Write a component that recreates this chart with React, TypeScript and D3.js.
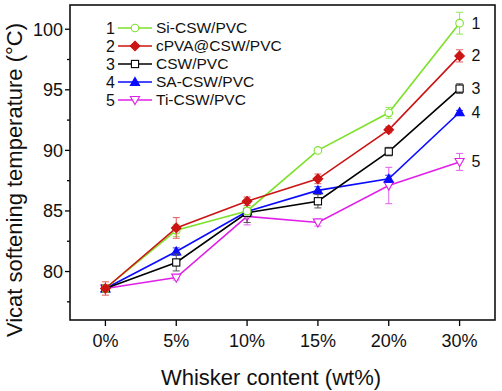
import React from "react";
import * as d3 from "d3";

const categories = ["0%", "5%", "10%", "15%", "20%", "30%"];
const seriesNames = ["Si-CSW/PVC", "cPVA@CSW/PVC", "CSW/PVC", "SA-CSW/PVC", "Ti-CSW/PVC"];
const siValues = [78.6, 83.4, 85.0, 90.0, 93.1, 100.5];
const cpvaValues = [78.6, 83.6, 85.8, 87.65, 91.7, 97.8];
const cswValues = [78.6, 80.75, 84.85, 85.8, 89.9, 95.1];
const saValues = [78.6, 81.65, 84.95, 86.7, 87.65, 93.15];
const tiValues = [78.6, 79.5, 84.55, 84.05, 87.1, 89.05];
const siErr = [0.3, 0.5, 0.3, 0.15, 0.45, 0.9];
const cpvaErr = [0.55, 0.85, 0.35, 0.4, 0.25, 0.5];
const cswErr = [0.3, 0.7, 0.8, 0.55, 0.35, 0.4];
const saErr = [0.2, 0.3, 0.2, 0.3, 0.3, 0.15];
const tiErr = [0.2, 0.2, 0.7, 0.3, 1.5, 0.7];
const yMajorTicks = [80, 85, 90, 95, 100];
const yMinorTicks = [77.5, 82.5, 87.5, 92.5, 97.5];

type Marker = "circle" | "diamond" | "square" | "triUp" | "triDown";
const series = [
  { id: "1", name: seriesNames[0], values: siValues, err: siErr, color: "#7de12a", errColor: "#8fe855", marker: "circle" as Marker, fill: "#fff" },
  { id: "2", name: seriesNames[1], values: cpvaValues, err: cpvaErr, color: "#cc1414", errColor: "#e45a5a", marker: "diamond" as Marker, fill: "#cc1414" },
  { id: "3", name: seriesNames[2], values: cswValues, err: cswErr, color: "#000000", errColor: "#555555", marker: "square" as Marker, fill: "#fff" },
  { id: "4", name: seriesNames[3], values: saValues, err: saErr, color: "#0a0aff", errColor: "#3030ff", marker: "triUp" as Marker, fill: "#0a0aff" },
  { id: "5", name: seriesNames[4], values: tiValues, err: tiErr, color: "#e020e8", errColor: "#e060ee", marker: "triDown" as Marker, fill: "#fff" },
];

const W = 502, H = 391;
const L = 70, R = 495, T = 5, B = 320;
const FONT = "'Liberation Sans', Arial, Helvetica, sans-serif";

function MarkerShape({ type, x, y, color, fill }: { type: Marker; x: number; y: number; color: string; fill: string }) {
  const sw = 1.1;
  if (type === "circle") return <circle cx={x} cy={y} r={3.8} fill={fill} stroke={color} strokeWidth={sw} />;
  if (type === "square") return <rect x={x - 3.6} y={y - 3.6} width={7.2} height={7.2} fill={fill} stroke={color} strokeWidth={sw} />;
  if (type === "diamond") {
    const s = 4.8;
    return <path d={`M${x},${y - s}L${x + s},${y}L${x},${y + s}L${x - s},${y}Z`} fill={fill} stroke={color} strokeWidth={sw} />;
  }
  if (type === "triUp") {
    const s = 4.6;
    return <path d={`M${x},${y - s}L${x + s},${y + s * 0.75}L${x - s},${y + s * 0.75}Z`} fill={fill} stroke={color} strokeWidth={sw} />;
  }
  const s = 4.6;
  return <path d={`M${x},${y + s}L${x + s},${y - s * 0.75}L${x - s},${y - s * 0.75}Z`} fill={fill} stroke={color} strokeWidth={sw} />;
}

export default function App() {
  const x = d3.scalePoint<string>().domain(categories).range([L, R]).padding(0.5);
  const y = d3.scaleLinear().domain([76, 102]).range([B, T]);
  const line = d3.line<number>().x((_, i) => x(categories[i])!).y((v) => y(v));
  const drawOrder = [4, 3, 2, 0, 1];
  const legendY0 = 28, legendStep = 18;

  return (
    <svg width={W} height={H} style={{ position: "absolute", left: 0, top: 0, background: "#fff" }} fontFamily={FONT}>
      <rect x={0} y={0} width={W} height={H} fill="#fff" />
      {yMajorTicks.map((t) => (
        <g key={"ym" + t}>
          <line x1={L - 5} x2={L} y1={y(t)} y2={y(t)} stroke="#000" strokeWidth={1.3} />
          <text x={L - 7} y={y(t)} dy="0.35em" textAnchor="end" fontSize={18} fill="#111">{t}</text>
        </g>
      ))}
      {yMinorTicks.map((t) => (
        <line key={"yn" + t} x1={L - 3} x2={L} y1={y(t)} y2={y(t)} stroke="#000" strokeWidth={1.3} />
      ))}
      {categories.map((c) => (
        <g key={"x" + c}>
          <line x1={x(c)} x2={x(c)} y1={B} y2={B + 6} stroke="#000" strokeWidth={1.3} />
          <text x={x(c)} y={B + 27} textAnchor="middle" fontSize={18} fill="#111">{c}</text>
        </g>
      ))}
      {drawOrder.map((si) => {
        const s = series[si];
        return (
          <g key={s.id}>
            <path d={line(s.values)!} fill="none" stroke={s.color} strokeWidth={1.6} />
            {s.values.map((v, i) => {
              const cx = x(categories[i])!;
              const y1 = y(v + s.err[i]);
              const y2 = y(v - s.err[i]);
              return (
                <g key={i}>
                  <line x1={cx} x2={cx} y1={y1} y2={y2} stroke={s.errColor} strokeWidth={1} />
                  <line x1={cx - 3.5} x2={cx + 3.5} y1={y1} y2={y1} stroke={s.errColor} strokeWidth={1} />
                  <line x1={cx - 3.5} x2={cx + 3.5} y1={y2} y2={y2} stroke={s.errColor} strokeWidth={1} />
                </g>
              );
            })}
            {s.values.map((v, i) => (
              <MarkerShape key={"m" + i} type={s.marker} x={x(categories[i])!} y={y(v)} color={s.color} fill={s.fill} />
            ))}
            <text x={x(categories[5])! + 12} y={y(s.values[5])} dy="0.35em" fontSize={16} fill="#111">{s.id}</text>
          </g>
        );
      })}
      {series.map((s, i) => {
        const ly = legendY0 + i * legendStep;
        return (
          <g key={"lg" + s.id}>
            <text x={115} y={ly} dy="0.35em" textAnchor="end" fontSize={16} fill="#111">{s.id}</text>
            <line x1={118} x2={152} y1={ly} y2={ly} stroke={s.color} strokeWidth={1.6} />
            <MarkerShape type={s.marker} x={135} y={ly} color={s.color} fill={s.fill} />
            <text x={156} y={ly} dy="0.35em" fontSize={15.5} fill="#111">{s.name}</text>
          </g>
        );
      })}
      <rect x={L} y={T} width={R - L} height={B - T} fill="none" stroke="#111" strokeWidth={1.6} />
      <text x={271} y={385} textAnchor="middle" fontSize={22} fill="#111">Whisker content (wt%)</text>
      <text transform={`translate(22,180) rotate(-90)`} textAnchor="middle" fontSize={22} fill="#111">
        Vicat softening temperature (°C)
      </text>
    </svg>
  );
}
